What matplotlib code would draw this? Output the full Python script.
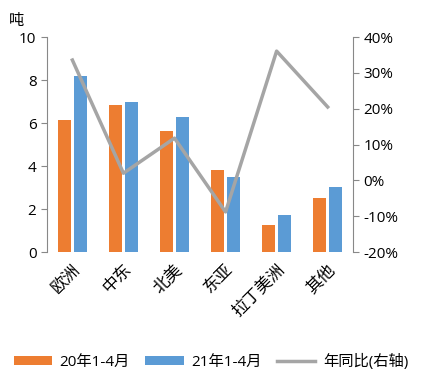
import numpy as np
import matplotlib.pyplot as plt
from matplotlib.ticker import FuncFormatter

plt.rcParams['font.family'] = ['Open Sans', 'Noto Sans CJK SC', 'DejaVu Sans']

regions = ['欧洲', '中东', '北美', '东亚', '拉丁美洲', '其他']
v20 = [6.14, 6.84, 5.63, 3.81, 1.26, 2.51]
v21 = [8.19, 6.98, 6.28, 3.49, 1.72, 3.02]
yoy = [33.6, 2.0, 11.8, -8.8, 36.1, 20.5]

orange = '#ED7D31'
blue = '#5B9BD5'
grey = '#A5A5A5'

fig = plt.figure(figsize=(4.22, 3.79), dpi=100)
ax = fig.add_axes([0.111, 0.335, 0.726, 0.567])
x = np.arange(len(regions))
w = 0.25
ax.bar(x - w / 2 - 0.03, v20, w, color=orange, label='20年1-4月')
ax.bar(x + w / 2 + 0.03, v21, w, color=blue, label='21年1-4月')
ax.set_xlim(-0.5, len(regions) - 0.5)
ax.set_ylim(0, 10)
ax.set_yticks([0, 2, 4, 6, 8, 10])
ax.set_xticks(x)
ax.set_xticklabels(regions, rotation=45, ha='right', rotation_mode='anchor', fontsize=12)
ax.tick_params(axis='x', length=0, pad=7)
ax.tick_params(axis='y', labelsize=11, color='#888888', length=4)
for s in ['top', 'right', 'bottom']:
    ax.spines[s].set_visible(False)
ax.spines['left'].set_color('#888888')

ax2 = ax.twinx()
ax2.plot(x, yoy, color=grey, lw=2.5, label='年同比(右轴)')
ax2.set_ylim(-20, 40)
ax2.set_yticks([-20, -10, 0, 10, 20, 30, 40])
ax2.yaxis.set_major_formatter(FuncFormatter(lambda v, p: '%d%%' % v))
ax2.tick_params(axis='y', labelsize=11, color='#888888', length=4)
for s in ['top', 'left', 'bottom']:
    ax2.spines[s].set_visible(False)
ax2.spines['right'].set_color('#888888')

fig.text(0.02, 0.935, '吨', fontsize=11)

h1, l1 = ax.get_legend_handles_labels()
h2, l2 = ax2.get_legend_handles_labels()
fig.legend(h1 + h2, l1 + l2, loc='center', bbox_to_anchor=(0.5, 0.045), ncol=3,
           frameon=False, fontsize=11, handlelength=2.5, handleheight=0.6,
           columnspacing=1.0, handletextpad=0.5, borderpad=0)

fig.savefig('out.png', dpi=100)
